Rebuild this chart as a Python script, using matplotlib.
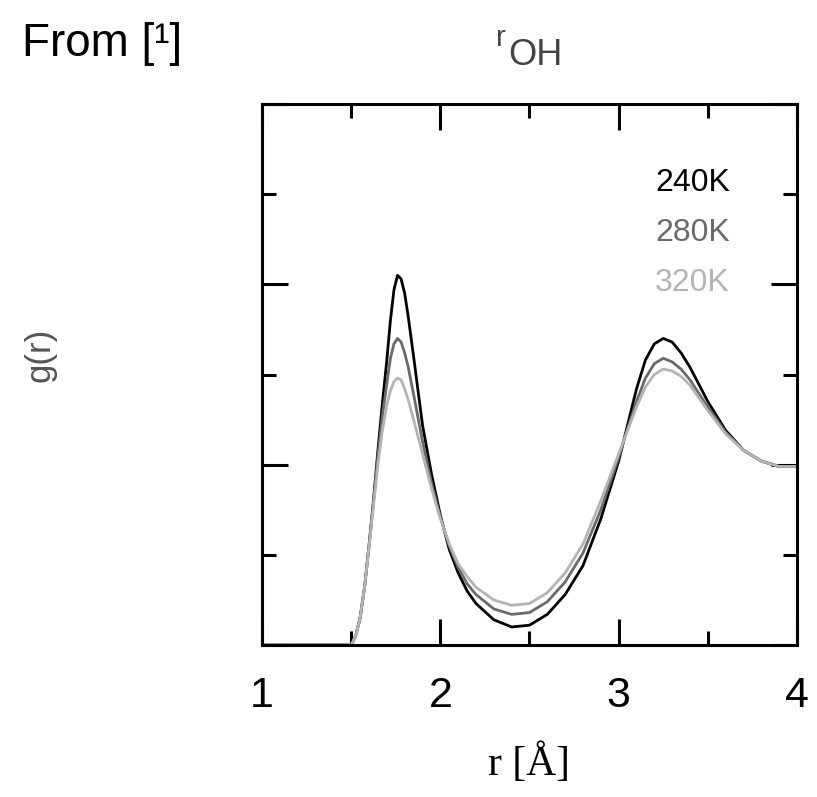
import numpy as np
from matplotlib import pyplot as plt

# r grid [Angstrom] and g(r), one list per temperature
r = [1.0, 1.45, 1.5, 1.525, 1.55, 1.575, 1.6, 1.625, 1.65, 1.675, 1.7, 1.72,
     1.74, 1.76, 1.78, 1.8, 1.82, 1.85, 1.9, 1.95, 2.0, 2.05, 2.1, 2.15, 2.2,
     2.3, 2.4, 2.5, 2.6, 2.7, 2.8, 2.9, 3.0, 3.05, 3.1, 3.15, 3.2, 3.25, 3.3,
     3.35, 3.4, 3.5, 3.6, 3.7, 3.8, 3.9, 4.0]

g_240 = [0, 0, 0.0, 0.05, 0.15, 0.32, 0.55, 0.80, 1.08, 1.34, 1.58, 1.80,
         1.97, 2.05, 2.03, 1.95, 1.82, 1.60, 1.22, 0.95, 0.72, 0.53, 0.40, 0.30,
         0.23, 0.14, 0.10, 0.11, 0.17, 0.28, 0.44, 0.70, 1.02, 1.22, 1.42, 1.58,
         1.67, 1.70, 1.68, 1.62, 1.54, 1.35, 1.19, 1.08, 1.02, 0.99, 0.99]
g_280 = [0, 0, 0.0, 0.05, 0.15, 0.32, 0.55, 0.79, 1.05, 1.27, 1.45, 1.59,
         1.67, 1.70, 1.68, 1.62, 1.54, 1.39, 1.13, 0.90, 0.71, 0.55, 0.43, 0.34,
         0.28, 0.20, 0.17, 0.18, 0.24, 0.35, 0.51, 0.75, 1.04, 1.20, 1.35, 1.48,
         1.56, 1.59, 1.57, 1.53, 1.47, 1.32, 1.18, 1.08, 1.02, 0.99, 0.99]
g_320 = [0, 0, 0.0, 0.05, 0.15, 0.32, 0.54, 0.77, 1.00, 1.19, 1.33, 1.41,
         1.46, 1.48, 1.47, 1.42, 1.36, 1.25, 1.06, 0.87, 0.70, 0.56, 0.45, 0.38,
         0.32, 0.25, 0.22, 0.23, 0.29, 0.40, 0.56, 0.80, 1.06, 1.19, 1.32, 1.43,
         1.50, 1.53, 1.52, 1.49, 1.44, 1.30, 1.17, 1.08, 1.02, 0.99, 0.99]

labels = ['240K', '280K', '320K']
colors = ['black', '#6a6a6a', '#b4b4b4']

plt.rcParams['font.family'] = ['Liberation Sans', 'DejaVu Sans']

fig = plt.figure(figsize=(8.17, 7.97), dpi=100)
ax = fig.add_axes([0.3207, 0.1907, 0.6548, 0.6788])

for g, c in zip([g_240, g_280, g_320], colors):
    ax.plot(r, g, color=c, lw=2.0)

ax.set_xlim(1, 4)
ax.set_ylim(0, 3)
ax.set_xticks([1, 2, 3, 4])
ax.set_xticks([1.5, 2.5, 3.5], minor=True)
ax.set_yticks([0, 1, 2, 3])
ax.set_yticks([0.5, 1.5, 2.5], minor=True)
ax.set_yticklabels([])
ax.tick_params(which='both', direction='in', top=True, right=True, width=2.2)
ax.tick_params(which='major', length=19, labelsize=31, pad=22)
ax.tick_params(which='minor', length=10)
for s in ax.spines.values():
    s.set_linewidth(2.2)

for i, (lab, c) in enumerate(zip(labels, colors)):
    ax.text(0.735, 0.854 - i * 0.092, lab, color=c, fontsize=23,
            transform=ax.transAxes, va='center', ha='left')

ax.set_xlabel('r [Å]', family='Liberation Serif', fontsize=30, labelpad=20)
fig.text(0.049, 0.555, 'g(r)', rotation=90, fontsize=25, color='#555555',
         ha='center', va='center')
fig.text(0.027, 0.945, 'From [¹]', fontsize=33, ha='left', va='center')
fig.text(0.607, 0.952, 'r', fontsize=21, color='#444444', ha='left', va='center')
fig.text(0.622, 0.93, 'OH', fontsize=26, color='#444444', ha='left', va='center')

fig.savefig('out.png', dpi=100)
